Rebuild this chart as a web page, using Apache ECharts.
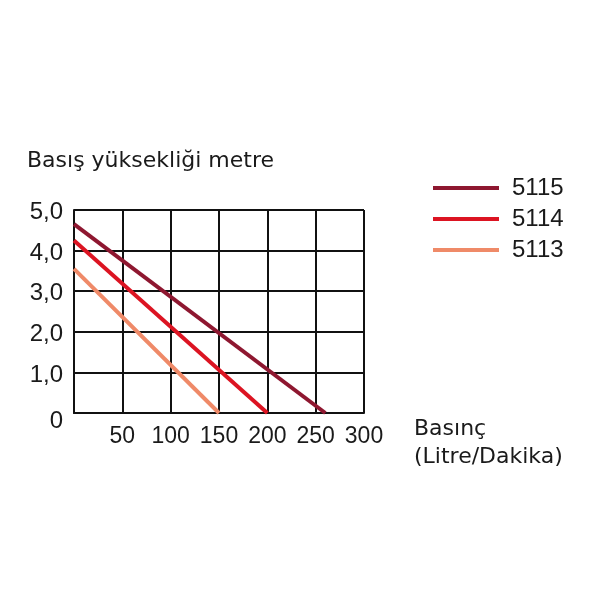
<!DOCTYPE html>
<html>
<head>
<meta charset="utf-8">
<script src="https://cdn.jsdelivr.net/npm/echarts@6/dist/echarts.min.js"></script>
<style>html,body{margin:0;padding:0;background:#fff}#c{width:600px;height:600px}</style>
</head>
<body>
<div id="c"></div>
<script>
var seriesNames = ['5115', '5114', '5113'];
var flow5115 = [0, 260];
var head5115 = [4.65, 0];
var flow5114 = [0, 200];
var head5114 = [4.25, 0];
var flow5113 = [0, 150];
var head5113 = [3.55, 0];
var yTickLabels = ['0', '1,0', '2,0', '3,0', '4,0', '5,0'];
var xTickLabels = ['', '50', '100', '150', '200', '250', '300'];
var colors = ['#8e1730', '#dc1422', '#ef8a68'];

function pts(xs, ys) { return xs.map(function (x, i) { return [x, ys[i]]; }); }
var flows = [flow5115, flow5114, flow5113];
var heads = [head5115, head5114, head5113];

var chart = echarts.init(document.getElementById('c'));
chart.setOption({
  animation: false,
  title: {
    text: 'Basış yüksekliği metre',
    left: 27, top: 150, padding: 0,
    textStyle: { fontFamily: 'DejaVu Sans', fontSize: 22, fontWeight: 'normal', color: '#1a1a1a' }
  },
  legend: {
    orient: 'vertical',
    left: 433, top: 176, padding: 0,
    itemWidth: 66, itemHeight: 4, itemGap: 7,
    icon: 'rect',
    data: seriesNames,
    textStyle: { fontFamily: 'Liberation Sans', fontSize: 24, color: '#1a1a1a', padding: [0, 0, 0, 8] }
  },
  graphic: [{
    type: 'text', left: 414, top: 415,
    style: { text: 'Basınç\n(Litre/Dakika)', fontFamily: 'DejaVu Sans', fontSize: 22, lineHeight: 28, fill: '#1a1a1a' }
  }],
  grid: { left: 74, right: 236, top: 210, bottom: 187 },
  xAxis: {
    type: 'value', min: 0, max: 300, interval: 50,
    axisLine: { show: true, lineStyle: { color: '#111', width: 2 } },
    axisTick: { show: false },
    splitLine: { show: true, lineStyle: { color: '#111', width: 2 } },
    axisLabel: {
      margin: 12, fontFamily: 'Liberation Sans', fontSize: 23, color: '#1a1a1a',
      formatter: function (v) { return xTickLabels[Math.round(v / 50)]; }
    }
  },
  yAxis: {
    type: 'value', min: 0, max: 5, interval: 1,
    axisLine: { show: true, lineStyle: { color: '#111', width: 2 } },
    axisTick: { show: false },
    splitLine: { show: true, lineStyle: { color: '#111', width: 2 } },
    axisLabel: {
      margin: 11, fontFamily: 'Liberation Sans', fontSize: 24, color: '#1a1a1a',
      formatter: function (v) {
        var i = Math.round(v);
        return i === 0 ? '{z|' + yTickLabels[0] + '}' : '{n|' + yTickLabels[i] + '}';
      },
      rich: {
        z: { fontFamily: 'Liberation Sans', fontSize: 24, color: '#1a1a1a', padding: [16, 0, 0, 0] },
        n: { fontFamily: 'Liberation Sans', fontSize: 24, color: '#1a1a1a', padding: [5, 0, 0, 0] }
      }
    }
  },
  series: seriesNames.map(function (n, i) {
    return {
      name: n, type: 'line', data: pts(flows[i], heads[i]),
      showSymbol: false, symbol: 'none',
      lineStyle: { color: colors[i], width: 4 },
      itemStyle: { color: colors[i] },
      z: 5
    };
  })
});
</script>
</body>
</html>
